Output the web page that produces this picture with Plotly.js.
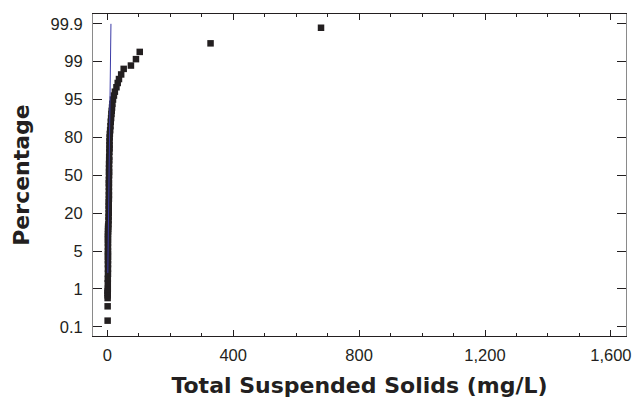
<!DOCTYPE html>
<html>
<head>
<meta charset="utf-8">
<script src="https://cdn.plot.ly/plotly-3.0.1.min.js"></script>
<style>html,body{margin:0;padding:0;background:#fff}#chart{width:633px;height:411px}</style>
</head>
<body>
<div id="chart"></div>
<script>
// ---- data ----
var yTickPercent = [0.1, 1, 5, 20, 50, 80, 95, 99, 99.9];
var yTickLabels = ['0.1', '1', '5', '20', '50', '80', '95', '99', '99.9'];
var xTickValues = [0, 400, 800, 1200, 1600];

// Total suspended solids (mg/L) and cumulative percentage
var tssValues = [1, 1,
  1, 1, 1, 1,
  1.5, 1.5, 1.5, 2, 2, 2, 2, 2, 2,
  2, 2, 2, 2, 2, 2, 2.5, 2.5, 2.5, 3.5,
  4, 4,
  4.5, 4.5, 4.5, 4.5, 5, 5, 5, 5, 5, 5,
  5.5, 5.5, 5.5, 5.5, 6, 6,
  6.5, 7, 7, 7,
  7.5, 8, 9, 10, 11, 12,
  13, 14, 15, 16,
  18, 21, 24, 29, 33, 37, 44, 52,
  75, 91, 103, 328, 679];
var tssPercent = [0.15, 0.37,
  0.6, 0.7, 0.8, 0.9,
  1, 1.3, 1.6, 2, 2.5, 3, 3.5, 4, 4.5,
  5, 6, 7, 8, 9, 10, 11, 12, 13, 14,
  16, 18,
  20, 22.5, 25, 27.5, 30, 33, 36, 40, 43, 46,
  50, 53, 56, 60, 63, 66,
  70, 72.5, 75, 77.5,
  80, 82, 84, 86, 88, 89.5,
  91, 92, 93, 94,
  95, 95.7, 96.3, 96.9, 97.4, 97.8, 98.2, 98.6,
  98.8, 99.13, 99.42, 99.65, 99.87];

// fitted line (two ends)
var fitValues = [1.6, 11.5];
var fitPercent = [2.07, 99.9];

// ---- probability-axis helper ----
function probit(p) {
  var a=[-3.969683028665376e+01,2.209460984245205e+02,-2.759285104469687e+02,1.383577518672690e+02,-3.066479806614716e+01,2.506628277459239e+00];
  var b=[-5.447609879822406e+01,1.615858368580409e+02,-1.556989798598866e+02,6.680131188771972e+01,-1.328068155288572e+01];
  var c=[-7.784894002430293e-03,-3.223964580411365e-01,-2.400758277161838e+00,-2.549732539343734e+00,4.374664141464968e+00,2.938163982698783e+00];
  var d=[7.784695709041462e-03,3.224671290700398e-01,2.445134137142996e+00,3.754408661907416e+00];
  var pl=0.02425, ph=1-pl, q, r;
  if (p < pl) { q=Math.sqrt(-2*Math.log(p)); return (((((c[0]*q+c[1])*q+c[2])*q+c[3])*q+c[4])*q+c[5])/((((d[0]*q+d[1])*q+d[2])*q+d[3])*q+1); }
  if (p <= ph) { q=p-0.5; r=q*q; return (((((a[0]*r+a[1])*r+a[2])*r+a[3])*r+a[4])*r+a[5])*q/(((((b[0]*r+b[1])*r+b[2])*r+b[3])*r+b[4])*r+1); }
  q=Math.sqrt(-2*Math.log(1-p)); return -(((((c[0]*q+c[1])*q+c[2])*q+c[3])*q+c[4])*q+c[5])/((((d[0]*q+d[1])*q+d[2])*q+d[3])*q+1);
}
var tickZ = yTickPercent.map(function(p){ return probit(p/100); });
function toPos(pct) {
  var z = probit(pct/100), n = tickZ.length, i = 0;
  if (z <= tickZ[0]) i = 0;
  else if (z >= tickZ[n-1]) i = n-2;
  else { while (i < n-2 && z > tickZ[i+1]) i++; }
  return i + (z - tickZ[i]) / (tickZ[i+1] - tickZ[i]);
}

var ink = '#231f20';
var traces = [
  { type: 'scatter', mode: 'markers', x: tssValues, y: tssPercent.map(toPos),
    marker: { symbol: 'square', size: 6.5, color: ink, line: { width: 0 } },
    hoverinfo: 'skip', showlegend: false },
  { type: 'scatter', mode: 'lines', x: fitValues, y: fitPercent.map(toPos),
    line: { color: '#3b3ba6', width: 1 }, hoverinfo: 'skip', showlegend: false }
];

var tickFont = { family: 'Liberation Sans, Arial, sans-serif', size: 16.5, color: ink };
var layout = {
  width: 633, height: 411,
  margin: { l: 93, r: 7, t: 14, b: 75, pad: 0 },
  paper_bgcolor: '#ffffff', plot_bgcolor: '#ffffff',
  showlegend: false,
  xaxis: {
    range: [-45.5, 1648], tickvals: xTickValues, tickformat: ',',
    ticks: 'inside', ticklen: 6, tickwidth: 1, tickcolor: ink,
    minor: { dtick: 100, tick0: 0, ticks: 'inside', ticklen: 3, tickcolor: ink, tickwidth: 1 },
    showline: true, linecolor: ink, linewidth: 1, mirror: 'ticks',
    showgrid: false, zeroline: false, tickfont: tickFont, ticklabelstandoff: 4,
    ticklabeloverflow: 'allow',
    title: { text: 'Total Suspended Solids (mg/L)', standoff: 14,
             font: { family: 'DejaVu Sans', size: 22, color: ink, weight: 'bold' } }
  },
  yaxis: {
    range: [-0.245, 8.26], tickvals: [0,1,2,3,4,5,6,7,8], ticktext: yTickLabels,
    ticks: 'inside', ticklen: 9, tickwidth: 1, tickcolor: ink,
    showline: true, linecolor: '#8a8a8a', linewidth: 1, mirror: 'ticks',
    showgrid: false, zeroline: false, tickfont: tickFont, ticklabelstandoff: 6,
    title: { text: 'Percentage', standoff: 14,
             font: { family: 'DejaVu Sans', size: 22, color: ink, weight: 'bold' } }
  }
};

Plotly.newPlot('chart', traces, layout, { staticPlot: true, displayModeBar: false });
</script>
</body>
</html>
